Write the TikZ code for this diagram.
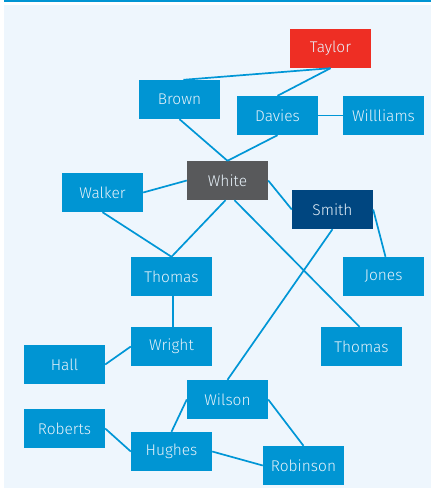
\documentclass[tikz,border=0pt]{standalone}
\usepackage{fontspec}
\setmainfont{Fira Sans}[UprightFont=* Light]
\definecolor{nblue}{RGB}{0,149,211}
\definecolor{lblue}{RGB}{0,150,214}
\definecolor{panel}{RGB}{238,246,253}
\definecolor{ngray}{RGB}{88,89,91}
\definecolor{ndark}{RGB}{0,70,128}
\definecolor{nred}{RGB}{238,46,36}
\definecolor{ntext}{RGB}{232,242,250}
\tikzset{
  person/.style={fill=nblue, text=ntext, minimum width=81pt, minimum height=39pt, inner sep=0pt, font=\fontsize{15.5}{18}\selectfont},
  link/.style={draw=lblue, line width=1.7pt}
}
\begin{document}
\begin{tikzpicture}[x=1pt,y=-1pt]
\useasboundingbox (0,0) rectangle (431,488);
\fill[nblue] (4,0) rectangle (431,2.2);
\fill[panel] (4,5) rectangle (431,488);
\node[person, fill=nred] (taylor) at (330.5,48.5) {Taylor};
\node[person] (brown) at (179.5,99.5) {Brown};
\node[person] (davies) at (277.5,115.5) {Davies};
\node[person] (williams) at (383.5,115.5) {Willliams};
\node[person, fill=ngray] (white) at (227.5,180.5) {White};
\node[person] (walker) at (102.5,192.5) {Walker};
\node[person, fill=ndark] (smith) at (332.5,209.5) {Smith};
\node[person] (thomasa) at (171.5,276.5) {Thomas};
\node[person] (jones) at (383.5,276.5) {Jones};
\node[person] (wright) at (171.5,346.5) {Wright};
\node[person] (thomasb) at (361.5,346.5) {Thomas};
\node[person] (hall) at (64.5,364.5) {Hall};
\node[person] (wilson) at (227.5,399.5) {Wilson};
\node[person] (roberts) at (64.5,428.5) {Roberts};
\node[person] (hughes) at (171.5,451.5) {Hughes};
\node[person] (robinson) at (303.5,465.5) {Robinson};
\draw[link] (taylor.south) -- ([xshift=4pt]brown.north);
\draw[link] (taylor.south) -- (davies.north);
\draw[link] (davies.east) -- (williams.west);
\draw[link] (brown.south) -- (white.north);
\draw[link] (davies.south) -- (white.north);
\draw[link] (walker.east) -- (white.west);
\draw[link] (white.east) -- (smith.west);
\draw[link] (smith.east) -- ([xshift=2pt]jones.north);
\draw[link] (walker.south) -- (thomasa.north);
\draw[link] ([xshift=-2pt]white.south) -- (thomasa.north);
\draw[link] ([xshift=7pt]white.south) -- ([xshift=-2pt]thomasb.north);
\draw[link] (smith.south) -- (wilson.north);
\draw[link] ([xshift=1.5pt]thomasa.south) -- ([xshift=1.5pt]wright.north);
\draw[link] (wright.west) -- (hall.east);
\draw[link] (wilson.west) -- (hughes.north);
\draw[link] (wilson.east) -- (robinson.north);
\draw[link] (roberts.east) -- (hughes.west);
\draw[link] (hughes.east) -- (robinson.west);
\end{tikzpicture}
\end{document}
